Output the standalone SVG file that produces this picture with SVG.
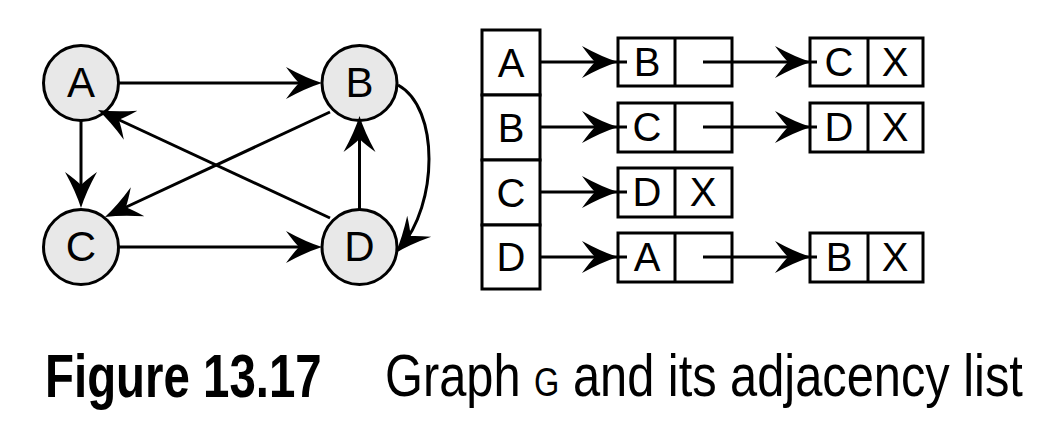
<svg xmlns="http://www.w3.org/2000/svg" width="1058" height="438" viewBox="0 0 1058 438">
<style>
.v{fill:#e8e8e8;stroke:#000;stroke-width:3}
.c{fill:#fff;stroke:#000;stroke-width:3}
.t{font-family:"Liberation Sans",Arial,sans-serif;font-size:42px;text-anchor:middle;fill:#000}
.lt{font-family:"Liberation Sans",Arial,sans-serif;font-size:40px;text-anchor:middle;fill:#000}
.e{fill:none;stroke:#000;stroke-width:3}
.cap{font-family:"Liberation Sans",Arial,sans-serif;fill:#000}
</style>
<defs>
<marker id="ah" markerUnits="userSpaceOnUse" markerWidth="45" markerHeight="40" refX="34" refY="20" orient="auto" overflow="visible">
<path d="M41,20 Q25,15 5,4 Q13,15 18,20 Q13,25 5,36 Q25,25 41,20 Z" fill="#000"/>
</marker>
</defs>
<rect width="1058" height="438" fill="#fff"/>
<g id="node-A"><circle class="v" cx="81" cy="83" r="37.5"/><text class="t" x="81" y="97">A</text></g>
<g id="node-B"><circle class="v" cx="359.5" cy="83" r="37.5"/><text class="t" x="359.5" y="97">B</text></g>
<g id="node-C"><circle class="v" cx="81" cy="247" r="37.5"/><text class="t" x="81" y="261">C</text></g>
<g id="node-D"><circle class="v" cx="359.5" cy="247" r="37.5"/><text class="t" x="359.5" y="261">D</text></g>
<g id="list-head">
<rect class="c" x="482" y="30" width="58" height="65"/><text class="lt" x="511" y="77">A</text>
<rect class="c" x="482" y="95" width="58" height="65"/><text class="lt" x="511" y="142">B</text>
<rect class="c" x="482" y="160" width="58" height="65"/><text class="lt" x="511" y="207">C</text>
<rect class="c" x="482" y="225" width="58" height="64"/><text class="lt" x="511" y="271">D</text>
</g>
<g id="A-B"><rect class="c" x="618" y="38" width="114" height="48"/><line class="e" x1="675" y1="38" x2="675" y2="86"/><text class="lt" x="647" y="76">B</text></g>
<g id="A-C"><rect class="c" x="810" y="38" width="113" height="48"/><line class="e" x1="868" y1="38" x2="868" y2="86"/><text class="lt" x="839" y="76">C</text><text class="lt" x="895" y="76">X</text></g>
<g id="B-C"><rect class="c" x="618" y="103" width="114" height="49"/><line class="e" x1="675" y1="103" x2="675" y2="152"/><text class="lt" x="647" y="141">C</text></g>
<g id="B-D"><rect class="c" x="810" y="103" width="113" height="49"/><line class="e" x1="868" y1="103" x2="868" y2="152"/><text class="lt" x="839" y="141">D</text><text class="lt" x="895" y="141">X</text></g>
<g id="C-D"><rect class="c" x="618" y="168" width="114" height="49"/><line class="e" x1="675" y1="168" x2="675" y2="217"/><text class="lt" x="647" y="206">D</text><text class="lt" x="703" y="206">X</text></g>
<g id="D-A"><rect class="c" x="618" y="233" width="114" height="49"/><line class="e" x1="675" y1="233" x2="675" y2="282"/><text class="lt" x="647" y="271">A</text></g>
<g id="D-B"><rect class="c" x="810" y="233" width="113" height="49"/><line class="e" x1="868" y1="233" x2="868" y2="282"/><text class="lt" x="839" y="271">B</text><text class="lt" x="895" y="271">X</text></g>
<g id="connectors">
<line class="e" x1="119" y1="83" x2="315" y2="83" marker-end="url(#ah)"/>
<line class="e" x1="119" y1="247" x2="315" y2="247" marker-end="url(#ah)"/>
<line class="e" x1="81" y1="121" x2="81" y2="201" marker-end="url(#ah)"/>
<line class="e" x1="359.5" y1="209" x2="359.5" y2="123" marker-end="url(#ah)"/>
<line class="e" x1="330" y1="112" x2="111.3" y2="214" marker-end="url(#ah)"/>
<line class="e" x1="330" y1="218" x2="104.3" y2="113" marker-end="url(#ah)"/>
<path class="e" d="M398,85 C440,108 438,205 400,248" marker-end="url(#ah)"/>
<path class="e" d="M540,62 L611,62 L627,62" marker-mid="url(#ah)"/>
<path class="e" d="M540,127 L611,127 L627,127" marker-mid="url(#ah)"/>
<path class="e" d="M540,192 L611,192 L627,192" marker-mid="url(#ah)"/>
<path class="e" d="M540,257 L611,257 L627,257" marker-mid="url(#ah)"/>
<path class="e" d="M703,62 L804,62 L817,62" marker-mid="url(#ah)"/>
<path class="e" d="M703,127 L804,127 L817,127" marker-mid="url(#ah)"/>
<path class="e" d="M703,257 L804,257 L817,257" marker-mid="url(#ah)"/>
</g>
<g id="caption">
<text class="cap" transform="translate(45,397) scale(0.765,1)" x="0" y="0" font-size="62" font-weight="bold">Figure 13.17</text>
<text class="cap" transform="translate(385,396) scale(0.813,1)" x="0" y="0" font-size="60">Graph <tspan font-size="40">G</tspan> and its adjacency list</text>
</g>
</svg>
